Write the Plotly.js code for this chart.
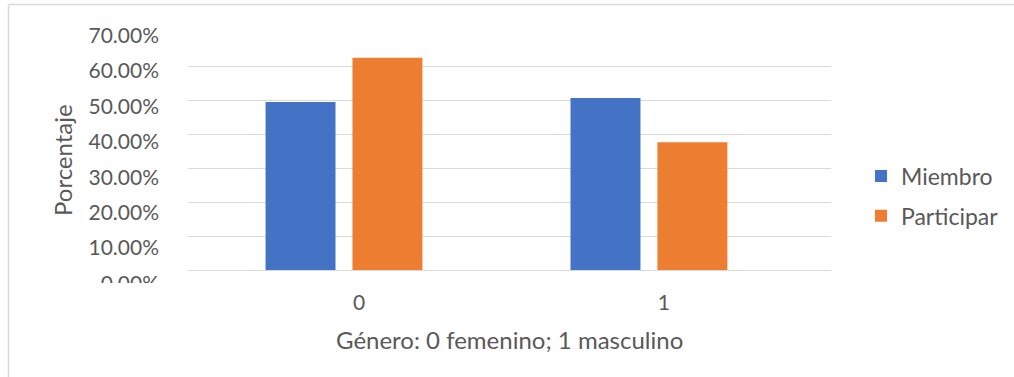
<!DOCTYPE html>
<html>
<head>
<meta charset="utf-8">
<script src="https://cdn.plot.ly/plotly-3.0.1.min.js"></script>
<style>
  html, body { margin: 0; padding: 0; background: #ffffff; }
  #chart { width: 1014px; height: 377px; }
</style>
</head>
<body>
<div id="chart"></div>
<script>
// Gender groups (0 = female, 1 = male)
var categories = ['0', '1'];
// Share of each group, as fractions
var miembro = [0.494, 0.506];
var participar = [0.624, 0.376];
// Percentage ticks on the value axis
var yTicks = [0, 0.1, 0.2, 0.3, 0.4, 0.5, 0.6, 0.7];

var TEXT = '#595959';
var GRID = '#d9d9d9';
var FONT = 'Lato, "Open Sans", sans-serif';

// page size and plot area in pixels
var W = 1014, H = 377;
var L = 188, R = 831, T = 32, B = 270;
// the paper runs from the top margin down to the page bottom
function px(x) { return (x - L) / (R - L); }
function py(y) { return (H - y) / (H - T); }

var traces = [
  {
    type: 'bar', name: 'Miembro', x: categories, y: miembro,
    marker: { color: '#4472c4' }, legendgroup: 'a', hoverinfo: 'y'
  },
  {
    type: 'bar', name: 'Participar', x: categories, y: participar,
    marker: { color: '#ed7d31' }, legendgroup: 'b', hoverinfo: 'y'
  },
  // carrier for the percentage-label axis
  { type: 'scatter', x: categories, y: [null, null], yaxis: 'y2',
    showlegend: false, hoverinfo: 'skip' }
];

var layout = {
  width: W, height: H,
  margin: { l: L, r: W - R, t: T, b: 0, pad: 0 },
  paper_bgcolor: '#ffffff',
  plot_bgcolor: 'rgba(0,0,0,0)',
  font: { family: FONT, size: 20, color: TEXT },
  barmode: 'group',
  bargap: 0.43,
  bargroupgap: 0.195,
  showlegend: true,
  legend: {
    x: px(861), xanchor: 'left',
    y: py(196), yanchor: 'middle',
    font: { family: FONT, size: 23, color: TEXT },
    tracegroupgap: 7,
    bgcolor: 'rgba(0,0,0,0)'
  },
  xaxis: {
    type: 'category',
    categoryorder: 'array', categoryarray: categories,
    range: [-0.5115, 1.597],
    showgrid: false, zeroline: false, showline: false,
    ticks: '', ticklabelshift: 15, ticklabelstandoff: 18,
    tickfont: { family: FONT, size: 21, color: TEXT },
    fixedrange: true
  },
  yaxis: {
    domain: [py(B), 1],
    range: [0, 0.7],
    tickvals: yTicks,
    showticklabels: false,
    showgrid: true, gridcolor: GRID, gridwidth: 1,
    zeroline: true, zerolinecolor: GRID, zerolinewidth: 1,
    showline: false, ticks: '',
    fixedrange: true
  },
  // percentage labels, spaced on their own scale alongside the grid
  yaxis2: {
    anchor: 'x', side: 'left',
    domain: [py(297), 1],
    range: [-0.0381, 0.7095],
    tickvals: yTicks, tickformat: '.2%',
    showgrid: false, zeroline: false, showline: false, ticks: '',
    ticklabelstandoff: 28,
    tickfont: { family: FONT, size: 21, color: TEXT },
    fixedrange: true
  },
  annotations: [
    {
      text: 'Porcentaje', textangle: -90,
      xref: 'paper', yref: 'paper', x: px(62), y: py(160),
      xanchor: 'center', yanchor: 'middle', showarrow: false,
      font: { family: FONT, size: 24, color: TEXT }
    },
    {
      text: 'Género: 0 femenino; 1 masculino',
      xref: 'paper', yref: 'paper', x: px(509), y: py(339),
      xanchor: 'center', yanchor: 'middle', showarrow: false,
      font: { family: FONT, size: 24, color: TEXT }
    }
  ],
  shapes: [
    // chart frame (left and top edges)
    { type: 'line', xref: 'paper', yref: 'paper', layer: 'above',
      x0: px(8.5), x1: px(8.5), y0: py(4.5), y1: py(400),
      line: { color: GRID, width: 1.5 } },
    { type: 'line', xref: 'paper', yref: 'paper', layer: 'above',
      x0: px(8.5), x1: px(1020), y0: py(4.5), y1: py(4.5),
      line: { color: GRID, width: 1.5 } },
    // lower edge of the value-label column
    { type: 'rect', xref: 'paper', yref: 'paper', layer: 'above',
      x0: px(70), x1: px(178), y0: py(283), y1: py(300),
      fillcolor: '#ffffff', line: { width: 0 } }
  ]
};

Plotly.newPlot('chart', traces, layout, { displayModeBar: false, staticPlot: true });
</script>
</body>
</html>
